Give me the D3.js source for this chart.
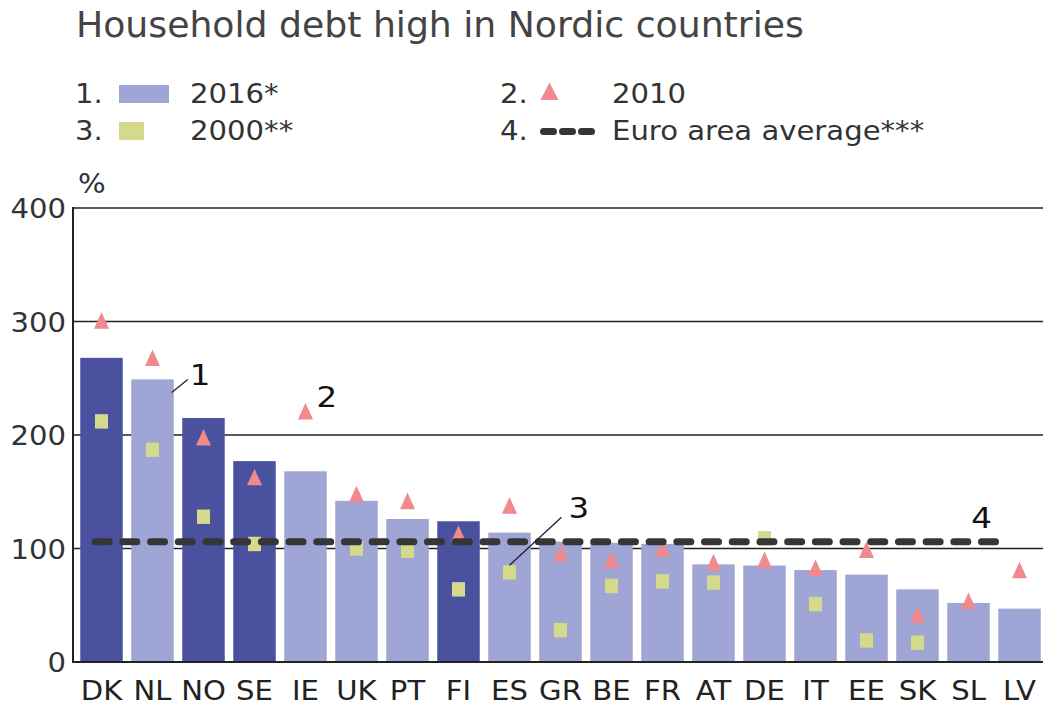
<!DOCTYPE html>
<html>
<head>
<meta charset="utf-8">
<script src="https://cdn.jsdelivr.net/npm/d3@7"></script>
<style>
  html, body { margin: 0; padding: 0; background: #fff; }
  svg { display: block; }
  text { font-family: "DejaVu Sans", sans-serif; }
</style>
</head>
<body>
<script>
// ---------- data ----------
const categories = ["DK","NL","NO","SE","IE","UK","PT","FI","ES","GR","BE","FR","AT","DE","IT","EE","SK","SL","LV"];
const nordic = ["DK","NO","SE","FI"];
const debt2016 = [268,249,215,177,168,142,126,124,114,106,105,104,86,85,81,77,64,52,47];
const debt2010 = [301,268,198,163,221,148,142,113,138,96,90,100,88,90,83,99,42,54,81];
const debt2000 = [212,187,128,104,null,100,98,64,79,28,67,71,70,109,51,19,17,null,null];
const euroAverage = 106;
const yTicks = [0,100,200,300,400];
const chartTitle = "Household debt high in Nordic countries";
const legendItems = [
  {num:"1.", label:"2016*", kind:"bar"},
  {num:"2.", label:"2010", kind:"tri"},
  {num:"3.", label:"2000**", kind:"sq"},
  {num:"4.", label:"Euro area average***", kind:"dash"}
];

// ---------- layout / style ----------
const W = 1043, H = 707;
const plotLeft = 73, plotRight = 1043, plotTop = 208, plotBottom = 662;
const C = { dark:"#4a529f", light:"#9fa5d4", tri:"#f08a8f", sq:"#d4d98c", dash:"#363636", grid:"#222", text:"#333" };
const SX = 1.12; // horizontal text stretch
const FS = 26;

const svg = d3.select("body").append("svg").attr("width", W).attr("height", H);
svg.append("rect").attr("width", W).attr("height", H).attr("fill", "#fff");

const x = d3.scaleBand().domain(categories).range([76, 76 + categories.length * 51]).paddingInner(0.167).paddingOuter(0.0835);
const y = d3.scaleLinear().domain([0, 400]).range([plotBottom, plotTop]);
const bw = x.bandwidth();

function txt(g, tx, ty, s, size, anchor, fill, stretch) {
  return g.append("text")
    .attr("transform", `translate(${tx},${ty}) scale(${stretch === undefined ? SX : stretch},1)`)
    .attr("text-anchor", anchor || "start")
    .attr("font-size", size)
    .attr("fill", fill || C.text)
    .text(s);
}

// title
txt(svg, 76, 37, chartTitle, 36.2, "start", "#444", 1);

// legend
const lg = svg.append("g");
const lcols = [75, 500], lrows = [103, 140];
legendItems.forEach((it, i) => {
  const cx = lcols[i % 2], by = lrows[Math.floor(i / 2)];
  txt(lg, cx, by, it.num, FS, "start", C.text);
  if (it.kind === "bar") {
    lg.append("rect").attr("x", cx + 44).attr("y", by - 18).attr("width", 50).attr("height", 18).attr("fill", C.light);
    txt(lg, cx + 115, by, it.label, FS);
  } else if (it.kind === "sq") {
    lg.append("rect").attr("x", cx + 44).attr("y", by - 18).attr("width", 25).attr("height", 18).attr("fill", C.sq);
    txt(lg, cx + 115, by, it.label, FS);
  } else if (it.kind === "tri") {
    const tx = cx + 49.5;
    lg.append("path").attr("d", `M${tx-9},${by-3} L${tx+9},${by-3} L${tx},${by-20.5} Z`).attr("fill", C.tri);
    txt(lg, cx + 112, by, it.label, FS);
  } else {
    lg.append("line").attr("x1", cx + 43.5).attr("x2", cx + 91.5).attr("y1", by - 8.5).attr("y2", by - 8.5)
      .attr("stroke", C.dash).attr("stroke-width", 7).attr("stroke-linecap", "round").attr("stroke-dasharray", "10 9");
    txt(lg, cx + 112, by, it.label, FS);
  }
});

// % label
txt(svg, 78, 193, "%", FS);

// gridlines
const gg = svg.append("g");
yTicks.filter(t => t > 0).forEach(t => {
  gg.append("line").attr("x1", plotLeft).attr("x2", plotRight).attr("y1", y(t)).attr("y2", y(t))
    .attr("stroke", C.grid).attr("stroke-width", 1.6);
});

// y tick labels
yTicks.forEach(t => txt(svg, 66, y(t) + 10, String(t), FS, "end", C.text));

// bars
svg.append("g").selectAll("rect").data(categories).join("rect")
  .attr("x", d => x(d)).attr("width", bw)
  .attr("y", (d, i) => y(debt2016[i])).attr("height", (d, i) => y(0) - y(debt2016[i]))
  .attr("fill", d => nordic.includes(d) ? C.dark : C.light);

// 2010 triangles
svg.append("g").selectAll("path").data(categories).join("path")
  .attr("d", (d, i) => {
    const cx = x(d) + bw / 2, cy = y(debt2010[i]);
    return `M${cx-7.5},${cy+8.3} L${cx+7.5},${cy+8.3} L${cx},${cy-8.3} Z`;
  })
  .attr("fill", C.tri);

// 2000 squares
svg.append("g").selectAll("rect").data(categories.filter((d, i) => debt2000[i] !== null)).join("rect")
  .attr("x", d => x(d) + bw / 2 - 6.5).attr("width", 13)
  .attr("y", d => y(debt2000[categories.indexOf(d)]) - 7.2).attr("height", 14.4)
  .attr("fill", C.sq);

// euro area average dashed line
svg.append("line")
  .attr("x1", x("DK") + bw * 0.35).attr("x2", x("LV") + 5)
  .attr("y1", y(euroAverage)).attr("y2", y(euroAverage))
  .attr("stroke", C.dash).attr("stroke-width", 7).attr("stroke-linecap", "round")
  .attr("stroke-dasharray", "14 13.7");

// axes lines
svg.append("line").attr("x1", plotLeft).attr("x2", plotLeft).attr("y1", plotTop - 1).attr("y2", plotBottom + 1)
  .attr("stroke", C.grid).attr("stroke-width", 2);
svg.append("line").attr("x1", plotLeft).attr("x2", plotRight).attr("y1", plotBottom).attr("y2", plotBottom)
  .attr("stroke", C.grid).attr("stroke-width", 2);

// x labels
categories.forEach(c => txt(svg, x(c) + bw / 2, 700, c, FS, "middle", "#222"));

// annotations
const ann = svg.append("g");
const iNL = categories.indexOf("NL"), iES = categories.indexOf("ES"), iIE = categories.indexOf("IE");
ann.append("line").attr("x1", x("NL") + bw - 2).attr("y1", y(debt2016[iNL]) + 13)
  .attr("x2", x("NL") + bw + 14).attr("y2", y(debt2016[iNL]))
  .attr("stroke", "#222").attr("stroke-width", 1.3);
txt(ann, x("NL") + bw + 16, y(debt2016[iNL]) + 6, "1", 29, "start", "#111");
txt(ann, x("IE") + bw / 2 + 11, y(debt2010[iIE]) - 4, "2", 29, "start", "#111");
ann.append("line").attr("x1", x("ES") + bw / 2).attr("y1", y(debt2000[iES]) - 7)
  .attr("x2", x("ES") + bw / 2 + 52).attr("y2", y(debt2000[iES]) - 55)
  .attr("stroke", "#222").attr("stroke-width", 1.3);
txt(ann, x("ES") + bw / 2 + 59, y(debt2000[iES]) - 54, "3", 29, "start", "#111");
txt(ann, x("LV") - 27, y(euroAverage) - 14, "4", 29, "start", "#111");
</script>
</body>
</html>
